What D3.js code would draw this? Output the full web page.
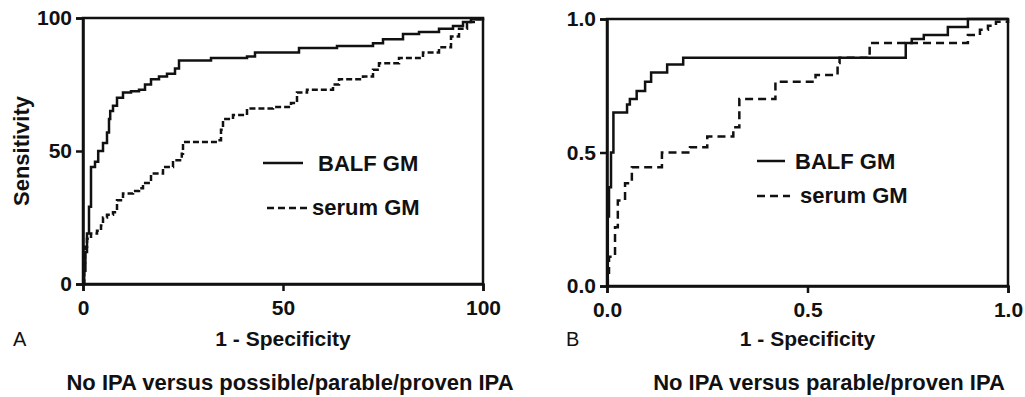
<!DOCTYPE html>
<html>
<head>
<meta charset="utf-8">
<script src="https://cdn.jsdelivr.net/npm/d3@7"></script>
<style>
  body { margin: 0; background: #fff; }
  svg text { font-family: "Liberation Sans", Arial, sans-serif; fill: #111; }
</style>
</head>
<body>
<svg id="chart" width="1025" height="397"></svg>
<script>
// Panel A: No IPA vs possible/probable/proven IPA (percent)
var balfA_x = [0, 0.3, 0.6, 1, 1.5, 2, 3, 3.8, 5, 6, 6.5, 6.8, 7.5, 8.5, 10, 12, 14, 15.5, 17, 19, 21, 23, 24, 32, 41, 43, 54, 63.5, 72.5, 75, 80, 84, 89, 92.5, 95, 97, 100];
var balfA_y = [0, 5, 12, 19, 29, 44, 46, 50, 53, 57, 62, 65, 67, 70, 72, 72.5, 73, 75, 77, 78, 79, 81, 84, 85, 85.5, 87, 88.7, 89.5, 90.5, 92, 94, 94.7, 96, 97, 98.5, 99.5, 100];
var serumA_x = [0, 0.3, 0.5, 1, 2, 3.5, 4.5, 5, 6, 7.5, 8.5, 10, 12.5, 14, 15, 17, 20, 22.5, 24.7, 25, 33.5, 34.5, 35, 37.5, 41, 47.5, 52, 53.5, 56, 62.5, 64, 70, 72.5, 74, 79, 85, 89, 92, 94, 96, 98, 100];
var serumA_y = [0, 8, 14, 17, 19, 20, 22, 25, 26, 27, 31.5, 34, 35, 36, 38, 41.5, 44, 46.5, 49, 53.4, 54, 58, 62, 63.5, 66, 66.5, 68, 72, 73, 75, 77, 78, 80.5, 83, 85, 87, 89, 93, 96, 98.5, 99.5, 100];
var ticksA = [0, 50, 100];

// Panel B: No IPA vs probable/proven IPA (fraction)
var balfB_x = [0, 0.002, 0.005, 0.01, 0.016, 0.05, 0.057, 0.074, 0.095, 0.11, 0.15, 0.19, 0.745, 0.76, 0.79, 0.85, 0.90, 1];
var balfB_y = [0, 0.26, 0.37, 0.50, 0.65, 0.68, 0.70, 0.73, 0.765, 0.80, 0.83, 0.855, 0.91, 0.925, 0.94, 0.97, 1.0, 1.0];
var serumB_x = [0, 0.002, 0.005, 0.02, 0.027, 0.045, 0.062, 0.137, 0.207, 0.25, 0.315, 0.33, 0.42, 0.52, 0.575, 0.58, 0.655, 0.90, 0.93, 0.95, 0.97, 1];
var serumB_y = [0, 0.05, 0.11, 0.22, 0.32, 0.385, 0.445, 0.50, 0.52, 0.56, 0.595, 0.70, 0.765, 0.79, 0.835, 0.855, 0.91, 0.94, 0.96, 0.975, 0.99, 1];
var ticksB = [0, 0.5, 1];

var seriesNames = ["BALF GM", "serum GM"];

var svg = d3.select("#chart");

function zip(xs, ys) {
    return xs.map(function (x, i) { return [x, ys[i]]; });
}

function drawPanel(opt) {
    var x = d3.scaleLinear().domain(opt.domain).range([opt.left, opt.right]);
    var y = d3.scaleLinear().domain(opt.domain).range([opt.bottom, opt.top]);
    var g = svg.append("g");

    // frame
    g.append("rect")
        .attr("x", opt.left).attr("y", opt.top)
        .attr("width", opt.right - opt.left).attr("height", opt.bottom - opt.top)
        .attr("fill", "none").attr("stroke", "#111").attr("stroke-width", 2.5);

    var xAxis = g.append("g")
        .attr("transform", "translate(0," + opt.bottom + ")")
        .call(d3.axisBottom(x).tickValues(opt.ticks).tickFormat(opt.fmt).tickSizeOuter(0).tickSize(7).tickPadding(9));
    var yAxis = g.append("g")
        .attr("transform", "translate(" + opt.left + ",0)")
        .call(d3.axisLeft(y).tickValues(opt.ticks).tickFormat(opt.fmt).tickSizeOuter(0).tickSize(7).tickPadding(4));
    [xAxis, yAxis].forEach(function (a) {
        a.select(".domain").attr("stroke", "#111").attr("stroke-width", 2.5);
        a.selectAll(".tick line").attr("stroke", "#111").attr("stroke-width", 2.5);
        a.selectAll(".tick text")
            .style("font-family", '"Liberation Sans", Arial, sans-serif')
            .style("font-size", "21px").style("font-weight", "bold").attr("fill", "#111");
    });

    var line = d3.line()
        .x(function (d) { return x(d[0]); })
        .y(function (d) { return y(d[1]); })
        .curve(d3.curveStepAfter);

    g.append("path").datum(opt.serum)
        .attr("d", line).attr("fill", "none")
        .attr("stroke", "#111").attr("stroke-width", 2.5)
        .attr("stroke-dasharray", opt.dash);
    g.append("path").datum(opt.balf)
        .attr("d", line).attr("fill", "none")
        .attr("stroke", "#111").attr("stroke-width", 2.5);

    // legend
    g.append("line")
        .attr("x1", opt.leg.x1).attr("x2", opt.leg.x2)
        .attr("y1", opt.leg.y1).attr("y2", opt.leg.y1)
        .attr("stroke", "#111").attr("stroke-width", 2.5);
    g.append("text").attr("x", opt.leg.t1).attr("y", opt.leg.y1 + 8)
        .style("font-size", "22px").style("font-weight", "bold").text(seriesNames[0]);
    g.append("line")
        .attr("x1", opt.leg.x1 + opt.leg.dx).attr("x2", opt.leg.x3)
        .attr("y1", opt.leg.y2).attr("y2", opt.leg.y2)
        .attr("stroke", "#111").attr("stroke-width", 2.5)
        .attr("stroke-dasharray", opt.legDash);
    g.append("text").attr("x", opt.leg.t2).attr("y", opt.leg.y2 + 7)
        .style("font-size", "22px").style("font-weight", "bold").text(seriesNames[1]);

    // axis titles
    var cx = (opt.left + opt.right) / 2;
    g.append("text").attr("x", cx).attr("y", 346)
        .attr("text-anchor", "middle")
        .style("font-size", "21px").style("font-weight", "bold").text("1 - Specificity");
    g.append("text").attr("x", opt.title.x).attr("y", 390)
        .attr("text-anchor", "middle")
        .style("font-size", "22px").style("font-weight", "bold").text(opt.title.text);
    g.append("text").attr("x", opt.letter.x).attr("y", 346)
        .style("font-size", "20px").text(opt.letter.text);
    if (opt.ylabel) {
        g.append("text")
            .attr("transform", "translate(29," + ((opt.top + opt.bottom) / 2) + ") rotate(-90)")
            .attr("text-anchor", "middle")
            .style("font-size", "22px").style("font-weight", "bold").text(opt.ylabel);
    }
}

drawPanel({
    left: 83, right: 483, top: 18, bottom: 284,
    domain: [0, 100], ticks: ticksA, fmt: d3.format("d"),
    balf: zip(balfA_x, balfA_y), serum: zip(serumA_x, serumA_y),
    dash: "6,3", legDash: "7,4",
    leg: { x1: 263, x2: 303, y1: 163, t1: 318, dx: 4, x3: 310, y2: 208, t2: 312 },
    title: { x: 290, text: "No IPA versus possible/parable/proven IPA" },
    letter: { x: 13, text: "A" },
    ylabel: "Sensitivity"
});

drawPanel({
    left: 607, right: 1008, top: 19, bottom: 286,
    domain: [0, 1], ticks: ticksB, fmt: d3.format(".1f"),
    balf: zip(balfB_x, balfB_y), serum: zip(serumB_x, serumB_y),
    dash: "8,5", legDash: "8,5",
    leg: { x1: 757, x2: 785, y1: 161, t1: 795, dx: 0, x3: 790, y2: 196, t2: 800 },
    title: { x: 829, text: "No IPA versus parable/proven IPA" },
    letter: { x: 566, text: "B" }
});
</script>
</body>
</html>
